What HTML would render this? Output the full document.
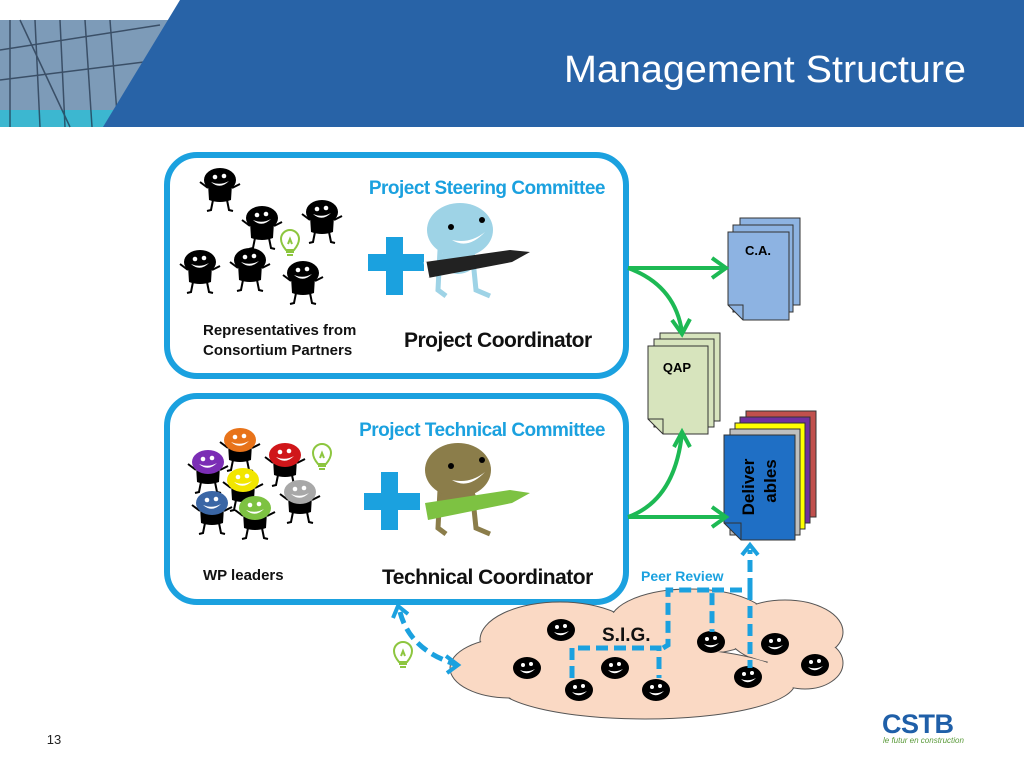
<!DOCTYPE html>
<html><head><meta charset="utf-8"><style>
html,body{margin:0;padding:0;background:#fff;}
svg{display:block;}
text{font-family:"Liberation Sans",Arial,sans-serif;}
</style></head><body>
<svg width="1024" height="768" viewBox="0 0 1024 768" xmlns="http://www.w3.org/2000/svg">
<defs>
<symbol id="guy" viewBox="-30 -20 60 60" overflow="visible">
 <path d="M-12 4 L-11 20 Q0 24 11 20 L12 4 Z" fill="#000"/>
 <path d="M-7 20 L-9 30 L-13 31 M7 20 L9 30 L13 31 M-12 8 L-20 2 M12 8 L20 4" stroke="#000" stroke-width="2" fill="none"/>
 <ellipse cx="0" cy="0" rx="16" ry="12" fill="currentColor"/>
 <circle cx="-5" cy="-3" r="2.3" fill="#fff"/><circle cx="4" cy="-4" r="2.3" fill="#fff"/>
 <path d="M-9 2 Q0 10 9 1 Q0 6 -9 2Z" fill="#fff"/>
</symbol>
<symbol id="face" viewBox="-15 -12 30 24" overflow="visible">
 <ellipse cx="0" cy="0" rx="14" ry="11" fill="#000"/>
 <circle cx="-4" cy="-3" r="2" fill="#fff"/><circle cx="4" cy="-4" r="2" fill="#fff"/>
 <path d="M-7 2 Q0 9 8 1 Q0 5 -7 2Z" fill="#fff"/>
</symbol>
<symbol id="bulb" viewBox="-12 -12 24 30" overflow="visible">
 <path d="M-4 8 Q-9 2 -9 -3 A9 9 0 1 1 9 -3 Q9 2 4 8 Z M-4 10 L4 10 M-3 13 L3 13 M-2 2 L0 -3 L2 2" fill="none" stroke="#8DC63F" stroke-width="2"/>
</symbol>
</defs>

<!-- header -->
<rect x="0" y="20" width="200" height="107" fill="#8aa7c2"/>
<rect x="0" y="20" width="200" height="90" fill="#7d9bb8"/>
<rect x="0" y="110" width="200" height="17" fill="#3cb7d0"/>
<g stroke="#1f2f45" stroke-width="1.5" opacity="0.7">
<line x1="10" y1="20" x2="10" y2="127"/><line x1="35" y1="20" x2="40" y2="127"/><line x1="60" y1="20" x2="65" y2="127"/><line x1="85" y1="20" x2="92" y2="127"/><line x1="110" y1="20" x2="118" y2="127"/>
<line x1="0" y1="50" x2="160" y2="25"/><line x1="0" y1="80" x2="160" y2="60"/><line x1="20" y1="20" x2="70" y2="127"/>
</g>
<polygon points="180,0 1024,0 1024,127 103,127" fill="#2863A7"/>
<text x="564" y="82" font-size="38" fill="#fff" textLength="402" lengthAdjust="spacingAndGlyphs">Management Structure</text>

<!-- boxes -->
<rect x="167" y="155" width="459" height="221" rx="30" fill="#fff" stroke="#1BA1DF" stroke-width="6"/>
<rect x="167" y="396" width="459" height="206" rx="30" fill="#fff" stroke="#1BA1DF" stroke-width="6"/>
<text x="605" y="194" font-size="19" font-weight="bold" fill="#1BA1DF" text-anchor="end" letter-spacing="-0.5">Project Steering Committee</text>
<text x="605" y="436" font-size="19" font-weight="bold" fill="#1BA1DF" text-anchor="end" letter-spacing="-0.5">Project Technical Committee</text>
<text x="203" y="335" font-size="15" font-weight="bold" fill="#111">Representatives from</text>
<text x="203" y="355" font-size="15" font-weight="bold" fill="#111">Consortium Partners</text>
<text x="404" y="347" font-size="21" font-weight="bold" fill="#111" letter-spacing="-0.5">Project Coordinator</text>
<text x="203" y="580" font-size="15" font-weight="bold" fill="#111">WP leaders</text>
<text x="382" y="584" font-size="21" font-weight="bold" fill="#111" letter-spacing="-0.5">Technical Coordinator</text>

<!-- black guys -->
<g color="#000">
<use href="#guy" x="190" y="160" width="60" height="60"/>
<use href="#guy" x="232" y="198" width="60" height="60"/>
<use href="#guy" x="292" y="192" width="60" height="60"/>
<use href="#guy" x="170" y="242" width="60" height="60"/>
<use href="#guy" x="220" y="240" width="60" height="60"/>
<use href="#guy" x="273" y="253" width="60" height="60"/>
</g>
<!-- colored guys -->
<use href="#guy" x="210" y="420" width="60" height="60" color="#E8731A"/>
<use href="#guy" x="255" y="435" width="60" height="60" color="#D0161A"/>
<use href="#guy" x="178" y="442" width="60" height="60" color="#7B2DB5"/>
<use href="#guy" x="213" y="460" width="60" height="60" color="#F2E600"/>
<use href="#guy" x="270" y="472" width="60" height="60" color="#A8A8A8"/>
<use href="#guy" x="182" y="483" width="60" height="60" color="#3A66A5"/>
<use href="#guy" x="225" y="488" width="60" height="60" color="#7DC242"/>
<!-- bulbs -->
<use href="#bulb" x="278" y="230" width="24" height="30"/>
<use href="#bulb" x="310" y="444" width="24" height="30"/>
<use href="#bulb" x="391" y="642" width="24" height="30"/>

<!-- plus signs -->
<g fill="#1BA1DF">
<rect x="386" y="237" width="17" height="58"/><rect x="368" y="254" width="56" height="17"/>
<rect x="381" y="472" width="17" height="58"/><rect x="364" y="493" width="56" height="17"/>
</g>
<!-- coordinator characters -->
<g>
<path d="M440 250 L438 290 L446 296 M472 250 L476 290 L490 296" stroke="#9ED3E6" stroke-width="5" fill="none"/>
<ellipse cx="458" cy="260" rx="18" ry="14" fill="#9ED3E6"/>
<ellipse cx="460" cy="230" rx="33" ry="27" fill="#9ED3E6"/>
<circle cx="451" cy="227" r="3" fill="#000"/><circle cx="482" cy="220" r="3" fill="#000"/>
<path d="M452 240 Q468 250 485 232 Q470 244 452 240Z" fill="#fff"/>
<polygon points="425,262 510,250 530,252 512,262 428,278" fill="#222"/>
<path d="M425 262 L428 278" stroke="#fff" stroke-width="3"/>
</g>
<g>
<path d="M440 490 L438 528 L446 534 M472 490 L476 528 L490 534" stroke="#8B7D4A" stroke-width="5" fill="none"/>
<ellipse cx="458" cy="498" rx="18" ry="14" fill="#8B7D4A"/>
<ellipse cx="458" cy="470" rx="33" ry="27" fill="#8B7D4A"/>
<circle cx="451" cy="466" r="3" fill="#000"/><circle cx="482" cy="460" r="3" fill="#000"/>
<path d="M452 480 Q468 490 485 472 Q470 484 452 480Z" fill="#fff"/>
<polygon points="425,503 510,490 530,493 512,503 428,520" fill="#7DC242"/>
</g>

<!-- docs -->
<g stroke="#333" stroke-width="1">
<rect x="740" y="218" width="60" height="87" fill="#8DB3E2"/>
<rect x="733" y="225" width="60" height="87" fill="#8DB3E2"/>
<path d="M728 232 L789 232 L789 320 L743 320 L728 305 Z" fill="#8DB3E2"/>
<path d="M728 305 L743 305 L743 320" fill="none"/>
<rect x="660" y="333" width="60" height="88" fill="#D7E4BD"/>
<rect x="654" y="339" width="60" height="88" fill="#D7E4BD"/>
<path d="M648 346 L708 346 L708 434 L663 434 L648 419 Z" fill="#D7E4BD"/>
<path d="M648 419 L663 419 L663 434" fill="none"/>
<rect x="746" y="411" width="70" height="106" fill="#C0504D"/>
<rect x="740" y="417" width="70" height="106" fill="#7030A0"/>
<rect x="735" y="423" width="70" height="106" fill="#FFFF00"/>
<rect x="730" y="429" width="70" height="106" fill="#BFBFBF"/>
<path d="M724 435 L795 435 L795 540 L741 540 L724 523 Z" fill="#1F6FC5"/>
<path d="M724 523 L741 523 L741 540" fill="none"/>
</g>
<text x="758" y="255" font-size="13" font-weight="bold" text-anchor="middle">C.A.</text>
<text x="677" y="372" font-size="13" font-weight="bold" text-anchor="middle">QAP</text>
<text transform="translate(754,487) rotate(-90)" font-size="17" font-weight="bold" text-anchor="middle">Deliver</text>
<text transform="translate(776,481) rotate(-90)" font-size="17" font-weight="bold" text-anchor="middle">ables</text>

<!-- green arrows -->
<g stroke="#1DB954" stroke-width="4" fill="none">
<path d="M628 268 L724 268"/><path d="M712 258 L726 268 L712 278"/>
<path d="M628 268 Q675 285 682 332"/><path d="M672 320 L682 334 L690 319"/>
<path d="M628 517 L724 517"/><path d="M712 507 L726 517 L712 527"/>
<path d="M628 517 Q675 500 682 433"/><path d="M674 447 L682 432 L690 447"/>
</g>

<!-- cloud -->
<g fill="#FAD9C4" stroke="#555" stroke-width="1">
<ellipse cx="560" cy="640" rx="80" ry="38"/><ellipse cx="690" cy="622" rx="80" ry="33"/>
<ellipse cx="785" cy="632" rx="58" ry="32"/><ellipse cx="645" cy="683" rx="150" ry="36"/>
<ellipse cx="510" cy="668" rx="60" ry="30"/><ellipse cx="805" cy="663" rx="38" ry="26"/>
</g>
<g fill="#FAD9C4">
<ellipse cx="560" cy="640" rx="79" ry="37"/><ellipse cx="690" cy="622" rx="79" ry="32"/>
<ellipse cx="785" cy="632" rx="57" ry="31"/><ellipse cx="645" cy="683" rx="149" ry="35"/>
<ellipse cx="510" cy="668" rx="59" ry="29"/><ellipse cx="805" cy="663" rx="37" ry="25"/>
</g>
<text x="602" y="641" font-size="19" font-weight="bold" fill="#111">S.I.G.</text>
<g>
<use href="#face" x="546" y="618" width="30" height="24"/>
<use href="#face" x="512" y="656" width="30" height="24"/>
<use href="#face" x="564" y="678" width="30" height="24"/>
<use href="#face" x="600" y="656" width="30" height="24"/>
<use href="#face" x="641" y="678" width="30" height="24"/>
<use href="#face" x="696" y="630" width="30" height="24"/>
<use href="#face" x="760" y="632" width="30" height="24"/>
<use href="#face" x="733" y="665" width="30" height="24"/>
<use href="#face" x="800" y="653" width="30" height="24"/>
</g>

<!-- dashed blue -->
<g stroke="#1BA1DF" stroke-width="5" fill="none" stroke-dasharray="12,6">
<path d="M572 678 L572 648 L659 648 L659 678"/>
<path d="M663 648 L668 645 L668 590 L712 590 L712 632"/>
<path d="M712 590 L750 590 L750 668"/>
<path d="M750 590 L750 550"/>
<path d="M400 612 Q410 650 455 664"/>
</g>
<g stroke="#1BA1DF" stroke-width="4" fill="none">
<path d="M742 555 L750 545 L758 555"/>
<path d="M393 618 L398 606 L408 614"/>
<path d="M446 656 L458 665 L447 673"/>
</g>
<text x="641" y="581" font-size="14" font-weight="bold" fill="#1BA1DF">Peer Review</text>

<!-- footer -->
<text x="54" y="744" font-size="13" fill="#222" text-anchor="middle">13</text>
<text x="882" y="733" font-size="27" font-weight="bold" fill="#1F5FA8" letter-spacing="-0.5">CSTB</text>
<text x="883" y="743" font-size="8" font-style="italic" fill="#5A9A3A">le futur en construction</text>
</svg>
</body></html>
